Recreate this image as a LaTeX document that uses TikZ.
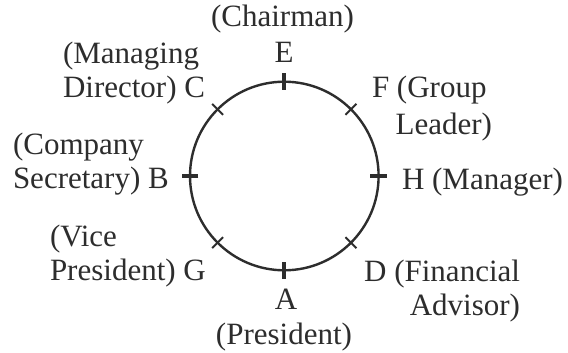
\documentclass[tikz,border=0pt]{standalone}
\usepackage{fontspec}
\setmainfont{Liberation Serif}
\usetikzlibrary{calc}
\definecolor{ink}{RGB}{45,45,45}
\tikzset{
  lbl/.style={inner sep=0pt, outer sep=0pt, text=ink, font=\fontsize{31}{34}\selectfont},
  ring/.style={draw=ink, line width=2.4pt},
  majortick/.style={draw=ink, line width=3.8pt},
  minortick/.style={draw=ink, line width=2pt}
}
\begin{document}
\begin{tikzpicture}[x=1pt,y=-1pt]
\useasboundingbox[fill=white] (0,0) rectangle (568,353);
\coordinate (O) at (284.3,176);
\draw[ring] (O) circle[radius=94.3pt];
\foreach \a in {0,90,180,270}
  \draw[majortick] ($(O)+(\a:86pt)$) -- ($(O)+(\a:102.5pt)$);
\foreach \a in {45,135,225,315}
  \draw[minortick] ($(O)+(\a:86.5pt)$) -- ($(O)+(\a:102pt)$);
\node[lbl, anchor=base] (chair) at (282.5,27) {(Chairman)};
\node[lbl, anchor=base] (E) at (284,63) {E};
\node[lbl, anchor=base west, align=left] (C) at (63,97) {(Managing\\Director) C};
\node[lbl, anchor=base west, align=left] (B) at (13,188) {(Company\\Secretary) B};
\node[lbl, anchor=base west, align=left] (G) at (50,280) {(Vice\\President) G};
\node[lbl, anchor=base west] (F) at (372,98) {F (Group};
\node[lbl, anchor=base east] (F2) at (492,135) {Leader)};
\node[lbl, anchor=base west] (H) at (402,189) {H (Manager)};
\node[lbl, anchor=base east, align=right] (D) at (520,315) {D (Financial\\Advisor)};
\node[lbl, anchor=base] (A) at (286,309) {A};
\node[lbl, anchor=base] (pres) at (284,344) {(President)};
\end{tikzpicture}
\end{document}
